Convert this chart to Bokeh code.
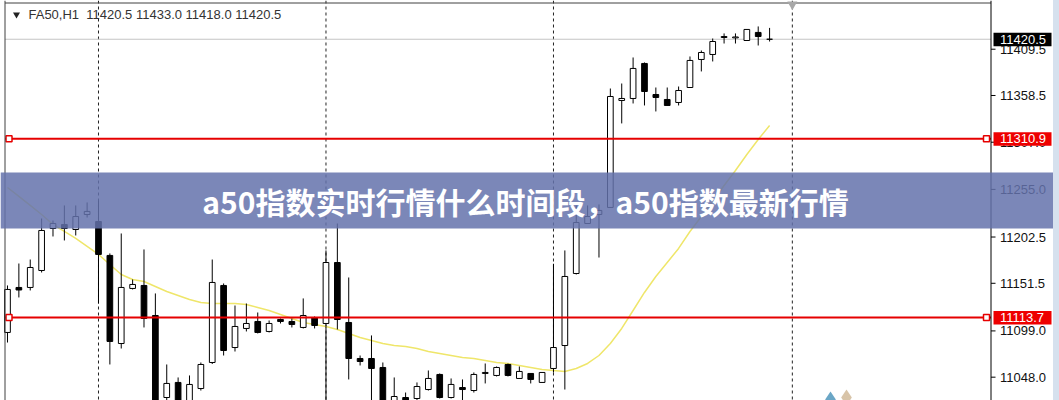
from bokeh.plotting import figure
from bokeh.layouts import row
from bokeh.models import (Range1d, Span, BoxAnnotation, Label, ColumnDataSource, Div)
from bokeh.core.properties import value
from bokeh.embed import file_html
from bokeh.resources import INLINE

# ---------------- data (FA50, H1) ----------------
opens = [11097.3, 11146.9, 11146.9, 11165.6, 11211.9, 11216.3, 11210.8, 11227.3, 11219.6, 11182.2,
         11085.1, 11145.8, 11149.1, 11116.0, 11025.6, 11042.2, 11020.0, 11035.5, 11064.2, 11149.1,
         11080.7, 11101.7, 11109.4, 11098.4, 11111.6, 11109.4, 11102.8, 11113.8, 11107.2, 11174.4,
         11108.3, 11068.6, 11068.6, 11058.7, 11020.0, 11025.6, 11024.5, 11034.4, 11051.0, 11025.6,
         11036.6, 11033.3, 11052.1, 11049.9, 11062.0, 11046.6, 11052.1, 11042.2, 11057.6, 11082.9,
         11162.3, 11217.4, 11227.3, 11235.1, 11353.0, 11355.2, 11393.8, 11359.6, 11354.1, 11350.8,
         11367.3, 11398.2, 11403.7, 11422.4, 11422.0, 11419.1, 11428.0, 11420.5]
closes = [11144.7, 11144.1, 11168.9, 11209.7, 11217.4, 11211.9, 11225.1, 11230.7, 11183.3, 11087.4,
          11146.9, 11150.2, 11112.7, 11020.0, 11041.1, 11020.0, 11040.0, 11062.0, 11152.4, 11077.4,
          11103.9, 11107.2, 11097.3, 11107.2, 11109.4, 11106.1, 11116.0, 11105.0, 11174.4, 11111.6,
          11068.6, 11065.3, 11057.6, 11018.0, 11026.7, 11021.0, 11037.7, 11046.6, 11025.6, 11040.0,
          11034.4, 11051.0, 11053.2, 11058.7, 11049.9, 11054.3, 11045.5, 11053.2, 11080.7, 11159.0,
          11218.5, 11225.1, 11231.8, 11357.4, 11355.2, 11388.3, 11362.9, 11356.3, 11347.5, 11364.0,
          11397.1, 11405.9, 11418.0, 11423.5, 11423.0, 11431.3, 11423.5, 11420.5]
highs = [11149.1, 11173.3, 11177.7, 11222.9, 11220.7, 11237.3, 11237.3, 11240.6, 11242.8, 11184.4,
         11206.4, 11155.7, 11188.8, 11140.3, 11062.0, 11047.7, 11049.9, 11064.2, 11177.7, 11151.3,
         11127.0, 11129.2, 11119.3, 11110.5, 11112.7, 11112.7, 11134.8, 11114.9, 11187.7, 11217.4,
         11157.9, 11071.9, 11094.0, 11064.2, 11047.7, 11031.1, 11042.2, 11055.4, 11052.1, 11046.6,
         11045.5, 11053.2, 11063.1, 11059.8, 11063.1, 11059.8, 11052.1, 11053.2, 11173.0, 11187.7,
         11237.3, 11237.3, 11238.4, 11366.2, 11371.7, 11400.4, 11394.9, 11367.3, 11367.3, 11368.4,
         11401.5, 11408.1, 11421.3, 11426.9, 11426.9, 11431.3, 11434.6, 11433.0]
lows = [11086.2, 11135.9, 11143.6, 11163.4, 11203.1, 11198.7, 11204.2, 11224.0, 11129.2, 11062.0,
        11079.6, 11144.7, 11102.8, 11010.0, 11018.0, 11012.0, 11014.0, 11033.3, 11062.5, 11071.9,
        11076.3, 11098.4, 11096.2, 11097.3, 11107.2, 11102.8, 11101.7, 11101.7, 11015.0, 11100.6,
        11045.5, 11060.9, 11018.0, 11010.0, 11015.0, 11016.0, 11020.0, 11033.3, 11024.5, 11024.5,
        11022.3, 11031.1, 11041.1, 11048.8, 11048.8, 11046.6, 11041.1, 11042.2, 11053.2, 11034.4,
        11161.2, 11217.4, 11179.9, 11235.1, 11327.7, 11349.7, 11347.5, 11340.9, 11347.5, 11347.5,
        11367.3, 11385.0, 11396.0, 11415.8, 11415.8, 11419.1, 11413.6, 11418.0]
ma = [11257.1, 11247.2, 11237.3, 11227.3, 11216.3, 11208.6, 11200.9, 11192.1, 11183.3, 11172.2,
      11161.2, 11155.7, 11153.5, 11148.0, 11142.5, 11138.1, 11133.6, 11130.3, 11129.2, 11129.2,
      11129.2, 11128.1, 11124.8, 11121.5, 11117.1, 11112.7, 11108.3, 11106.1, 11103.9, 11100.6,
      11096.2, 11091.8, 11088.5, 11085.1, 11082.9, 11081.8, 11079.6, 11076.3, 11074.1, 11071.9,
      11069.7, 11068.6, 11066.4, 11064.2, 11063.1, 11060.9, 11058.7, 11056.5, 11055.4, 11054.3,
      11057.6, 11063.1, 11071.9, 11085.1, 11101.7, 11121.5, 11141.4, 11159.0, 11174.4, 11189.9,
      11208.6, 11225.1, 11241.7, 11259.3, 11275.8, 11293.5, 11310.0, 11325.4]
separators = [8, 28, 48, 69]
levels = [11310.9, 11113.7]
level_labels = ["11310.9", "11113.7"]
bid = 11420.5
bid_label = "11420.5"
y_ticks = [11048.0, 11099.0, 11151.5, 11202.5, 11255.0, 11307.0, 11358.5, 11409.5]
tick_labels = ["11048.0", "11099.0", "11151.5", "11202.5", "11255.0", "11307.0", "11358.5", "11409.5"]
header = "FA50,H1\u00a0\u00a011420.5 11433.0 11418.0 11420.5"
banner = "a50指数实时行情什么时间段，a50指数最新行情"

# ---------------- layout constants ----------------
W, H = 1053, 400
XR0, XR1 = -0.615, 91.96
YR0, YR1 = 11022.3, 11463.2


def xpix(px):
    return XR0 + px / W * (XR1 - XR0)


def ypix(py):
    return YR1 - py / H * (YR1 - YR0)


PPX = (YR1 - YR0) / H          # price units per pixel
AX = xpix(990.5)               # price-axis line
LEFT = xpix(4.5)               # chart left border
FONT = value("Liberation Sans")

idx = list(range(len(opens)))
up = [c >= o for o, c in zip(opens, closes)]
src = ColumnDataSource(dict(
    x=idx, h=highs, l=lows,
    top=[max(o, c) for o, c in zip(opens, closes)],
    bottom=[min(o, c) for o, c in zip(opens, closes)],
    fill=["white" if u else "black" for u in up],
))

p = figure(width=W, height=H, x_range=Range1d(XR0, XR1), y_range=Range1d(YR0, YR1),
           output_backend="svg", toolbar_location=None,
           x_axis_location=None, y_axis_location=None,
           min_border_left=0, min_border_right=0, min_border_top=0, min_border_bottom=0)
p.grid.visible = False
p.outline_line_color = None
p.background_fill_color = "white"
p.border_fill_color = "white"

# period separators
for s in separators:
    p.add_layout(Span(location=s, dimension="height", line_color="#222222",
                      line_dash="3 3", line_width=1, level="underlay"))

# chart border and price axis
p.add_layout(Span(location=LEFT, dimension="height", line_color="#404040", line_width=1))
p.add_layout(Span(location=AX, dimension="height", line_color="black", line_width=1))
p.segment(x0=[LEFT], y0=[ypix(2.5)], x1=[AX], y1=[ypix(2.5)], line_color="#404040", line_width=1)
p.segment(x0=[AX] * len(y_ticks), y0=y_ticks, x1=[xpix(995)] * len(y_ticks), y1=y_ticks,
          line_color="black", line_width=1)
p.text(x=[xpix(999.5)] * len(y_ticks), y=y_ticks, text=tick_labels, text_font=FONT,
       text_font_size=value("13px"), text_color="#111111", text_baseline="middle",
       text_align="left")

# bid line
p.segment(x0=[LEFT], y0=[bid], x1=[AX], y1=[bid], line_color="#c4c4c4", line_width=1)

# moving average
p.line(idx, ma, line_color="#efe66a", line_width=1.5)

# candles
p.segment(x0="x", y0="h", x1="x", y1="l", source=src, line_color="black", line_width=1)
p.vbar(x="x", width=0.5, top="top", bottom="bottom", source=src,
       fill_color="fill", line_color="black", line_width=1)

# horizontal levels
p.segment(x0=[LEFT] * len(levels), y0=levels, x1=[AX] * len(levels), y1=levels,
          line_color="#e60000", line_width=2)
p.scatter([xpix(8.5)] * len(levels), levels, marker="square", size=6,
          fill_color="white", line_color="#e60000", line_width=1.5)
p.scatter([xpix(986)] * len(levels), levels, marker="square", size=6,
          fill_color="white", line_color="#e60000", line_width=1.5)

# price boxes on the axis
box_vals = [bid] + levels
box_text = [bid_label] + level_labels
box_cols = ["black", "#ee0000", "#ee0000"]
p.quad(left=[xpix(993)] * 3, right=[xpix(1051)] * 3,
       top=[v + 6.5 * PPX for v in box_vals], bottom=[v - 7.0 * PPX for v in box_vals],
       fill_color=box_cols, line_color=None)
p.text(x=[xpix(999.5)] * 3, y=box_vals, text=box_text, text_font=FONT,
       text_font_size=value("13px"), text_color="white", text_baseline="middle",
       text_align="left")

# shift marker
p.scatter([separators[-1]], [ypix(4)], marker="inverted_triangle", size=10,
          fill_color="#a8a8a8", line_color=None)

# watermark logo hint
p.scatter([xpix(830), xpix(846)], [ypix(399), ypix(397)], marker="diamond", size=16,
          fill_color=["#6aa6c6", "#d8c4a8"], line_color=None)

# header
p.scatter([xpix(16)], [ypix(14)], marker="inverted_triangle", size=7,
          fill_color="#222222", line_color=None)
p.add_layout(Label(x=xpix(28), y=ypix(13.5), text=header, text_font="Liberation Sans",
                   text_font_size="13px", text_color="#333333", text_baseline="middle"))

# banner
p.add_layout(BoxAnnotation(top=ypix(172), bottom=ypix(228),
                           fill_color=(100, 114, 172), fill_alpha=0.85, line_color=None))
p.add_layout(Label(x=xpix(525), y=ypix(200.5), text=banner, text_font="Noto Sans CJK SC",
                   text_font_style="bold", text_font_size="30px", text_color="white",
                   text_align="center", text_baseline="middle"))

strip = Div(width=6, height=400, margin=0, styles={"background-color": "#d6e1ee"})

open("out.html", "w").write(file_html(row(p, strip, spacing=0), INLINE))
